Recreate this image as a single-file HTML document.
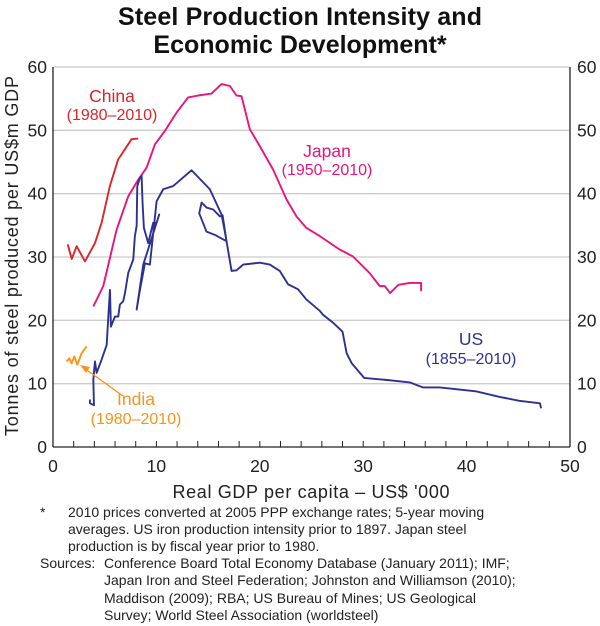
<!DOCTYPE html>
<html><head><meta charset="utf-8"><style>
body{margin:0;background:#fff;font-family:"Liberation Sans",Arial,sans-serif;}
#wrap{position:relative;width:600px;height:626px;}
.t{position:absolute;color:#222;}
</style></head><body><div id="wrap">
<svg id="chart" width="600" height="626" style="position:absolute;left:0;top:0" font-family="Liberation Sans, Arial, sans-serif">
<text x="300" y="25" text-anchor="middle" font-size="25" font-weight="bold" fill="#111" textLength="364">Steel Production Intensity and</text>
<text x="300" y="53" text-anchor="middle" font-size="25" font-weight="bold" fill="#111">Economic Development*</text>
<g id="grid"></g><g id="axes"></g><g id="series"></g>
<text transform="translate(18,256) rotate(-90)" text-anchor="middle" font-size="18" fill="#222" textLength="360">Tonnes of steel produced per US$m GDP</text>
<text x="311" y="498" text-anchor="middle" font-size="18" fill="#222" textLength="277">Real GDP per capita – US$ '000</text>
<text x="112" y="102" text-anchor="middle" font-size="17.5" fill="#d9262a">China</text>
<text x="112" y="120" text-anchor="middle" font-size="16" fill="#d9262a">(1980–2010)</text>
<text x="327" y="157" text-anchor="middle" font-size="17.5" fill="#e6147f">Japan</text>
<text x="327" y="175" text-anchor="middle" font-size="16" fill="#e6147f">(1950–2010)</text>
<text x="471" y="345" text-anchor="middle" font-size="17.5" fill="#2e3192">US</text>
<text x="471" y="364" text-anchor="middle" font-size="16" fill="#2e3192">(1855–2010)</text>
<text x="136" y="405" text-anchor="middle" font-size="17.5" fill="#f7941d">India</text>
<text x="136" y="424" text-anchor="middle" font-size="16" fill="#f7941d">(1980–2010)</text>
<line x1="123" y1="396" x2="84" y2="368" stroke="#f7941d" stroke-width="1.3"/>
<polygon points="80,365 90,367 86,373" fill="#f7941d"/>
</svg>
<div class="t" style="left:40px;top:504px;font-size:14px;line-height:17px;width:500px">
<div style="position:absolute;left:0;top:0">*</div>
<div style="margin-left:28px;width:425px">2010 prices converted at 2005 PPP exchange rates; 5-year moving averages. US iron production intensity prior to 1897. Japan steel production is by fiscal year prior to 1980.</div>
</div>
<div class="t" style="left:40px;top:555px;font-size:14px;line-height:17.3px;width:520px">
<div style="position:absolute;left:0;top:0">Sources:</div>
<div style="margin-left:64px;width:418px">Conference Board Total Economy Database (January 2011); IMF; Japan Iron and Steel Federation; Johnston and Williamson (2010); Maddison (2009); RBA; US Bureau of Mines; US Geological Survey; World Steel Association (worldsteel)</div>
</div>
</div>
<script>
const yTicks=[0,10,20,30,40,50,60];
const xTicks=[0,10,20,30,40,50];
const chinaX=[1.42,1.81,2.29,3.09,4.06,4.7,5.5,6.3,7.6,8.24];
const chinaY=[32,29.7,31.7,29.3,32.2,35.4,41.2,45.4,48.6,48.7];
const japanX=[3.9,4.86,6.15,7.28,8.24,9.05,9.86,10.82,11.95,13.07,14.04,15.33,16.3,17.1,17.75,18.23,19.03,20,21.29,22.58,23.55,24.5,25.8,27.7,29.0,30.6,31.6,32.1,32.6,33.4,34.5,35.6,35.6];
const japanY=[22.2,25.4,34.3,39.6,42.2,44.1,47.8,49.9,52.8,55.2,55.5,55.8,57.3,57.0,55.5,55.4,50.2,47.5,43.8,39.1,36.4,34.6,33.3,31.2,30.1,27.5,25.4,25.4,24.3,25.6,25.9,25.9,24.6];
const usX=[3.57,3.57,3.96,3.9,4.06,4.22,4.7,5.19,5.35,5.51,5.6,5.99,6.31,6.47,6.79,6.96,7.28,7.51,7.76,7.92,8.09,8.15,8.41,8.57,8.66,8.79,9.21,9.37,9.69,10.02,10.27,8.73,8.09,8.41,8.89,9.37,10.02,10.66,11.62,13.4,15.17,16.3,16.62,16.78,15.65,14.85,14.14,14.37,14.85,15.49,16.14,16.4,16.78,17.27,17.75,18.39,20,20.97,21.93,22.73,23.7,24.5,25.8,26.1,27.1,28.0,28.4,28.9,30.1,32.2,34.5,35.8,37.4,40.9,43.2,45.1,47.1,47.2];
const usY=[7.5,6.9,6.6,10.6,13.5,11.7,13.8,16.1,20.6,24.8,19.0,20.6,20.6,22.5,23.0,24.3,27.5,28.5,29.6,33.3,34.9,41.2,42.5,42.8,38.6,34.6,32.2,33.3,35.4,35.4,36.7,28.8,21.7,24.8,29.0,28.8,38.8,40.7,41.2,43.7,40.7,36.7,34.0,32.5,33.5,34.0,36.9,38.6,37.8,37.5,36.4,36.6,32.5,27.8,27.9,28.8,29.1,28.8,27.8,25.7,24.9,23.3,21.5,20.9,19.6,18.2,14.8,13.2,10.9,10.6,10.2,9.4,9.4,8.8,7.9,7.3,6.9,6.1];
const indiaX=[1.32,1.58,1.8,2.06,2.35,2.77,3.26];
const indiaY=[13.5,14.0,13.2,14.3,13.0,14.8,15.9];
const L=53,R=570,T=67,B=447;
const sx=v=>L+(R-L)*v/50, sy=v=>B-(B-T)*v/60;
const NS='http://www.w3.org/2000/svg';
function mk(tag,attrs,parent){const e=document.createElementNS(NS,tag);for(const k in attrs)e.setAttribute(k,attrs[k]);document.getElementById(parent).appendChild(e);return e;}
yTicks.forEach(v=>{
 if(v>0){const g=mk('line',{x1:L,x2:R,y1:sy(v),y2:sy(v),stroke:'#ccc','stroke-width':1.3},'grid');
 
 }
 const a=mk('text',{x:L-6,y:sy(v)+6,'text-anchor':'end','font-size':17.5,fill:'#222'},'axes');a.textContent=v;
 
 
 const b=mk('text',{x:R+7,y:sy(v)+6,'text-anchor':'start','font-size':17.5,fill:'#222'},'axes');b.textContent=v;
 
 
});
for(let v=0;v<=50;v+=2){const t=mk('line',{x1:sx(v),x2:sx(v),y1:B,y2:B-6,stroke:'#222','stroke-width':1},'axes');
 
 }
xTicks.forEach(v=>{const t=mk('text',{x:sx(v),y:B+25,'text-anchor':'middle','font-size':17.5,fill:'#222'},'axes');t.textContent=v;
 
 });
[['M',L,T,L,B,'left-axis'],['M',R,T,R,B,'right-axis'],['M',L,B,R,B,'x-axis']].forEach(a=>{const l=mk('line',{x1:a[1],y1:a[2],x2:a[3],y2:a[4],stroke:'#222','stroke-width':1.3},'axes');
 
 });
function line(xs,ys,col,name){const p=mk('polyline',{points:xs.map((x,i)=>sx(x)+','+sy(ys[i])).join(' '),fill:'none',stroke:col,'stroke-width':1.9,'stroke-linejoin':'round'},'series');
 
 }
line(japanX,japanY,'#e6147f','japan-line');
line(chinaX,chinaY,'#d9262a','china-line');
line(usX,usY,'#2e3192','us-line');
line(indiaX,indiaY,'#f7941d','india-line');
</script>
</body></html>
